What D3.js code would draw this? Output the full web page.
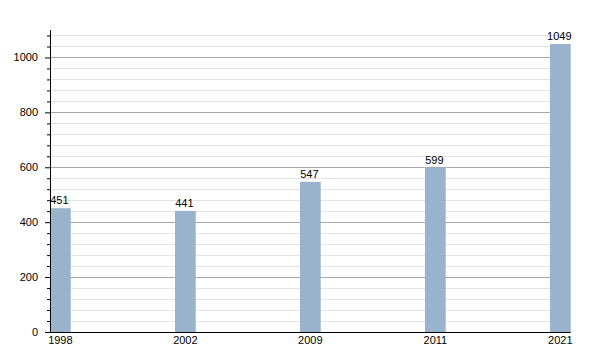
<!DOCTYPE html>
<html lang="en">
<head>
  <meta charset="UTF-8">
  <script src="https://d3js.org/d3.v7.min.js"></script>
  <style>
    body { margin: 0; background: #fff; }
    text { font-family: "Liberation Sans", Arial, sans-serif; }
  </style>
</head>
<body>
  <svg width="600" height="350"></svg>

  <script>
    // data
    var years = ["1998", "2002", "2009", "2011", "2021"]
    var population = [451, 441, 547, 599, 1049]
    var majorTicks = [0, 200, 400, 600, 800, 1000]

    var svg = d3.select("svg")
    var marge = { left: 50, right: 570.7, top: 30, bottom: 332 }

    var x = d3.scaleBand()
      .domain(years)
      .range([marge.left, marge.right])
      .paddingInner(0.834)
      .paddingOuter(0)

    var y = d3.scaleLinear()
      .domain([0, 1100])
      .range([marge.bottom, marge.top])

    var minorTicks = d3.range(0, 1100, 40).filter(function(v){ return v % 200 !== 0 })

    // grid lines
    svg.append("g")
      .selectAll("line")
      .data(minorTicks)
      .enter()
      .append("line")
      .attr("x1", marge.left).attr("x2", marge.right)
      .attr("y1", function(d){ return Math.round(y(d)) + 0.5 })
      .attr("y2", function(d){ return Math.round(y(d)) + 0.5 })
      .attr("stroke", "#e3e3e3")
    svg.append("g")
      .selectAll("line")
      .data(majorTicks.filter(function(d){ return d > 0 }))
      .enter()
      .append("line")
      .attr("x1", marge.left).attr("x2", marge.right)
      .attr("y1", function(d){ return Math.round(y(d)) + 0.5 })
      .attr("y2", function(d){ return Math.round(y(d)) + 0.5 })
      .attr("stroke", "#a8a8a8")

    // bars
    svg.append("g")
      .selectAll("rect")
      .data(population)
      .enter()
      .append("rect")
      .attr("x", function(d, i){ return x(years[i]) })
      .attr("y", function(d){ return y(d) })
      .attr("width", x.bandwidth())
      .attr("height", function(d){ return marge.bottom - y(d) })
      .attr("fill", "#9ab3cd")

    // value labels
    svg.append("g")
      .selectAll("text")
      .data(population)
      .enter()
      .append("text")
      .attr("x", function(d, i){ return x(years[i]) + x.bandwidth() / 2 - 1 })
      .attr("y", function(d){ return y(d) - 4 })
      .attr("text-anchor", "middle")
      .attr("font-size", 11)
      .attr("fill", "#000")
      .text(function(d){ return d })

    // y axis
    var yAxis = svg.append("g")
      .attr("transform", "translate(" + marge.left + ",0)")
    yAxis.append("g")
      .call(d3.axisLeft(y).tickValues(minorTicks).tickSize(3).tickFormat(""))
      .call(function(g){ g.select(".domain").remove() })
    yAxis.append("g")
      .call(d3.axisLeft(y).tickValues(majorTicks).tickSize(5).tickPadding(7).tickFormat(d3.format("d")))
      .call(function(g){
        g.selectAll("text").attr("font-size", 11).attr("font-family", "Liberation Sans, Arial, sans-serif").attr("fill", "#000")
        g.select(".domain").attr("d", "M0.5," + marge.top + "V" + marge.bottom)
      })

    // x axis
    var xAxis = svg.append("g")
      .attr("transform", "translate(0," + marge.bottom + ")")
      .call(d3.axisBottom(x).tickSize(0).tickPadding(4))
    xAxis.select(".domain").attr("d", "M" + marge.left + ",0.5H" + marge.right)
    xAxis.selectAll("text")
      .attr("font-size", 11)
      .attr("font-family", "Liberation Sans, Arial, sans-serif")
      .attr("fill", "#000")
  </script>
</body>
</html>
